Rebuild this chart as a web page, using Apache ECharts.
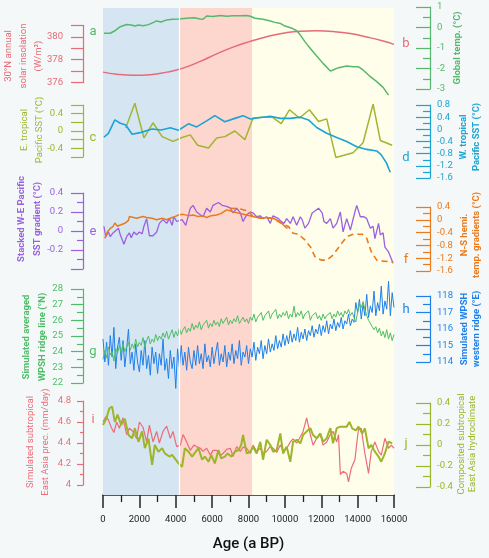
<!DOCTYPE html>
<html>
<head>
<meta charset="utf-8">
<script src="https://cdn.jsdelivr.net/npm/echarts@6/dist/echarts.min.js"></script>
<style>
  html, body { margin: 0; padding: 0; background: #f4f8f8; }
  #main { width: 489px; height: 558px; }
</style>
</head>
<body>
<div id="main"></div>
<script>
var chartDom = document.getElementById('main');
var myChart = echarts.init(chartDom);

// period boundaries (a BP)
const periodEdges = [0, 4200, 8200, 16000];

// a: global temperature (°C)
const ageA = [50,400,650,950,1300,1550,1750,1950,2200,2500,2750,2950,3200,3500,3800,4150,4600,5000,5350,5500,5700,6050,6450,6800,7150,7550,7900,8100,8350,8800,9200,9450,9750,10000,10400,10650,10850,11100,11400,11750,12100,12500,12650,12950,13400,13750,14050,14300,14700,15050,15400,15700];
const tempA = [-0.28,-0.28,-0.16,0.04,0.15,0.12,0.07,0.12,0.09,0.14,0.24,0.32,0.27,0.37,0.40,0.41,0.45,0.47,0.42,0.40,0.56,0.54,0.59,0.55,0.57,0.57,0.59,0.55,0.45,0.40,0.32,0.25,0.2,0.07,-0.04,-0.16,-0.37,-0.69,-1.02,-1.39,-1.75,-2.12,-2.07,-1.96,-1.88,-1.92,-1.92,-2.07,-2.40,-2.64,-2.92,-3.3];

// b: 30°N annual insolation (W/m²)
const ageB = [0,750,1650,2600,3500,4400,5350,6250,7150,8100,9000,9900,10850,11750,12650,13600,14500,15400,16000];
const insolB = [376.92,376.74,376.65,376.7,376.92,377.27,377.86,378.51,379.1,379.6,380.0,380.31,380.49,380.52,380.46,380.28,379.98,379.63,379.34];

// c: E. tropical Pacific SST (°C)
const ageC = [1250,1750,2250,2750,3250,3850,4350,4800,5200,5800,6250,6700,7250,7800,8250,8800,9300,9800,10250,10800,11350,11850,12300,12800,13750,14300,14850,15250,15900];
const sstC = [0.07,0.64,-0.16,0.19,-0.13,-0.24,-0.15,-0.09,-0.33,-0.39,-0.16,-0.13,0,-0.2,0.30,0.32,0.32,0.17,0.49,0.30,0.49,0.22,0.28,-0.61,-0.5,-0.27,0.62,-0.22,-0.33];

// d: W. tropical Pacific SST (°C)
const ageD = [50,300,650,950,1250,1600,2100,2700,3200,3700,4150,4700,5150,5700,6150,6700,7250,7700,8100,8650,9200,9750,10300,10850,11300,11750,12300,12850,13400,13950,14500,15050,15300,15600,15700,15800];
const sstD = [-0.26,-0.13,0.31,0.2,0.14,-0.16,-0.1,0.01,-0.02,0.05,-0.03,0.18,0.08,0.28,0.45,0.25,0.36,0.45,0.34,0.39,0.43,0.36,0.36,0.40,0.31,0.06,-0.13,-0.27,-0.40,-0.57,-0.66,-0.71,-0.84,-1.12,-1.28,-1.41];

// e: stacked W-E Pacific SST gradient (°C)
const ageE = [50,150,300,400,550,650,850,950,1150,1300,1450,1550,1700,1850,2000,2150,2250,2400,2550,2750,2950,3100,3300,3500,3650,3800,3900,4050,4350,4550,4800,4950,5150,5350,5500,5700,5900,6050,6350,6550,6650,6800,7000,7150,7350,7550,7700,7900,8100,8250,8450,8650,8800,9000,9200,9350,9650,9800,9950,10100,10300,10450,10650,10850,10950,11100,11300,11500,11650,11850,12050,12150,12300,12500,12650,12850,13050,13200,13400,13600,13850,13950,14150,14350,14500,14700,14850,14950,15150,15250,15400,15500,15700,15950];
const gradE = [0.05,-0.06,-0.01,-0.06,-0.02,-0.04,0.03,-0.04,-0.14,-0.06,-0.02,-0.07,-0.01,-0.04,-0.01,-0.03,0.05,0.13,-0.05,-0.05,-0.01,0.08,0.12,0.08,0.13,0.06,0.15,0.10,0.12,0.06,0.24,0.27,0.20,0.17,0.15,0.24,0.20,0.27,0.30,0.27,0.29,0.26,0.24,0.19,0.24,0.19,0.10,0.17,0.20,0.19,0.15,0.16,0.13,0.15,0.08,0.16,0.13,0.10,0.08,0.13,0.08,0.15,0.06,0.15,0.12,0.03,0.08,0.19,0.21,0.24,0.19,0.10,0.08,0.13,0.03,0.08,0.20,-0.01,0.13,0.01,0.20,0.27,0.15,0.15,0.13,0.03,0.05,-0.08,0.08,-0.04,-0.02,-0.17,-0.22,-0.34];

// f: N-S hemispheric temperature gradients (°C), two records
const ageF1 = [100,250,400,550,650,700,800,950,1200,1400,1450,1550,1850,2200,2400,2700,2950,3250,3500,3800,3950,4150,4400,4700,4950,5250,5500,5700,5950,6250,6500,6800,6900,7150,7550,7900,8250,8650,9000,9350,9750,10000,10150];
const nsF1 = [-0.58,-0.37,-0.27,-0.21,-0.10,-0.06,-0.20,-0.16,-0.11,-0.02,0.10,0.04,0.05,0.10,0.07,0.05,0.00,0.05,0.00,0.07,0.10,0.15,0.17,0.13,0.15,0.10,0.13,0.07,0.13,0.15,0.20,0.31,0.36,0.25,0.20,0.15,0.10,0.05,0.07,0.05,-0.06,-0.21,-0.27];
const ageF2 = [7000,7550,8000,8250,8800,9350,9800,10200,10450,10750,11100,11400,11650,12000,12300,12650,13050,13400,13750,14250,14500,14750,15050,15400,15800,15950];
const nsF2 = [0.36,0.34,0.27,0.10,0.05,0.05,-0.11,-0.21,-0.42,-0.45,-0.63,-0.84,-1.15,-1.26,-1.26,-1.10,-0.79,-0.53,-0.45,-0.45,-0.58,-1.00,-1.26,-1.29,-1.31,-1.33];

// g / h: simulated WPSH, sampled every 100 a from 0 BP
const wpshStep = 100;
const ridgeG = [
  23.5,24.1,23.6,24.3,23.8,24.0,23.4,24.2,23.9,24.4,
  23.9,24.5,24.0,24.3,24.6,24.1,24.5,24.2,24.8,24.3,
  24.6,24.4,24.9,24.3,24.7,25.0,24.5,24.8,24.6,25.1,
  24.7,25.0,24.8,25.2,24.9,25.3,24.8,25.1,25.4,24.9,
  25.3,25.0,25.5,25.1,25.4,25.6,25.2,25.5,25.3,25.8,
  25.4,25.7,25.5,25.9,25.4,25.7,25.6,26.0,25.5,25.8,
  25.6,26.0,25.7,25.9,25.6,26.1,25.8,25.9,26.2,25.7,
  26.0,25.8,26.1,25.9,26.3,25.8,26.0,26.2,25.9,26.1,
  25.8,26.2,26.0,26.4,25.9,26.2,26.1,26.5,26.0,26.3,
  26.2,26.6,26.1,26.4,26.3,26.7,26.1,26.4,26.2,26.5,
  26.3,26.6,26.1,26.4,26.2,26.9,26.2,26.5,26.3,26.6,
  26.1,26.4,26.3,26.6,26.0,26.3,26.2,26.5,26.1,26.3,
  26.0,26.4,26.1,26.3,26.2,26.5,26.1,26.4,26.2,26.6,
  26.3,26.5,26.2,26.6,26.4,26.7,26.3,26.5,26.2,25.9,
  26.5,27.1,26.8,27.2,26.7,26.3,26.0,25.9,25.6,25.4,
  25.6,25.2,25.5,25.0,25.3,24.9,25.4,24.8,25.2,24.7,25.1
];
const westH = [
  115.4,114.0,115.2,113.8,115.6,114.3,116.1,113.6,114.9,115.5,
  114.1,115.3,113.7,114.8,116.0,113.9,114.6,113.5,115.1,114.0,
  113.4,114.7,113.8,115.3,113.6,114.4,113.2,114.9,113.9,114.6,
  113.3,114.5,113.8,115.4,113.5,114.2,113.0,114.7,113.6,114.3,
  112.4,114.8,113.7,115.0,113.8,114.6,113.5,114.9,114.0,113.6,
  114.7,113.8,115.0,113.9,114.5,113.6,115.1,114.0,114.4,113.7,
  114.9,113.9,114.6,115.2,113.8,114.5,114.0,115.0,113.7,114.6,
  114.1,115.1,113.9,114.7,114.2,115.3,113.8,114.6,114.3,115.0,
  113.9,114.8,114.3,115.2,114.1,114.9,114.5,115.3,114.2,115.0,
  114.5,115.4,114.6,115.1,114.7,115.6,114.8,115.3,114.9,115.7,
  115.0,115.6,115.1,115.9,115.2,115.7,115.3,116.1,115.2,115.8,
  115.4,116.0,115.3,115.9,115.6,116.2,115.5,116.0,115.7,116.3,
  115.6,116.2,115.8,116.5,115.7,116.3,116.0,116.6,115.9,116.4,
  116.1,116.7,116.0,116.5,116.3,116.9,116.2,116.6,116.4,117.6,
  117.0,117.8,116.6,117.5,116.8,118.1,116.7,117.4,117.0,118.3,
  116.8,117.6,117.1,118.6,116.9,117.7,117.2,118.9,116.8,118.2,117.3
];

// i: simulated subtropical East Asia precipitation (mm/day)
const ageI = [0,150,300,450,600,750,900,1100,1300,1450,1650,1850,2000,2200,2400,2550,2750,2950,3100,3300,3500,3700,3850,4050,4250,4400,4600,4800,5000,5150,5350,5500,5700,5900,6050,6250,6450,6600,6800,7000,7150,7350,7550,7700,7900,8100,8250,8450,8650,8800,9000,9200,9350,9550,9750,9900,10100,10300,10450,10650,10850,11000,11200,11400,11550,11750,11950,12100,12300,12500,12650,12850,12950,13050,13200,13400,13500,13650,13850,14050,14200,14400,14600,14750,14950,15150,15300,15500,15700,15850,16000];
const precI = [4.60,4.65,4.62,4.55,4.50,4.60,4.54,4.64,4.48,4.54,4.51,4.44,4.60,4.55,4.41,4.57,4.41,4.51,4.40,4.51,4.56,4.445,4.51,4.365,4.38,4.48,4.41,4.33,4.38,4.365,4.35,4.32,4.35,4.285,4.33,4.33,4.28,4.30,4.34,4.35,4.27,4.365,4.32,4.36,4.35,4.30,4.38,4.32,4.35,4.30,4.32,4.37,4.35,4.31,4.38,4.33,4.35,4.41,4.44,4.40,4.46,4.51,4.64,4.48,4.38,4.445,4.48,4.38,4.41,4.48,4.51,4.41,4.48,4.10,4.13,4.11,4.03,4.16,4.24,4.54,4.54,4.30,4.11,4.32,4.41,4.32,4.285,4.445,4.35,4.38,4.35];

// j: composited subtropical East Asia hydroclimate
const ageJ = [0,180,350,500,650,800,1000,1200,1400,1600,1750,1950,2150,2300,2500,2700,2850,3050,3250,3400,3650,3800,4000,4150,4350,4500,4700,4900,5100,5250,5450,5600,5800,5950,6150,6350,6500,6700,6850,7050,7250,7450,7600,7700,7900,8100,8250,8450,8650,8800,9000,9200,9350,9550,9750,9900,10100,10300,10450,10650,10850,11000,11200,11400,11550,11750,11950,12100,12300,12500,12650,12850,13050,13400,13550,13700,13900,14050,14250,14400,14600,14750,14950,15150,15300,15500,15700,15900];
const hydroJ = [0.19,0.25,0.35,0.365,0.22,0.29,0.19,0.25,0.095,0.064,0.16,0.03,0.13,-0.03,0.06,-0.19,0.0,-0.064,-0.03,-0.08,-0.11,-0.095,-0.14,-0.175,-0.206,-0.03,-0.064,-0.11,-0.064,-0.03,-0.14,-0.11,-0.16,-0.095,-0.175,-0.048,-0.127,-0.11,-0.08,-0.11,-0.064,-0.048,0.0,0.095,-0.08,-0.064,-0.016,-0.08,0.03,-0.14,0.05,0.0,-0.064,-0.048,0.11,-0.08,-0.016,-0.16,0.03,0.05,0.016,0.095,0.13,0.16,0.095,0.064,0.11,0.03,0.064,0.16,0.016,0.16,0.175,0.175,0.22,0.159,0.14,0.175,0.11,0.159,-0.032,0.0,-0.064,-0.11,-0.159,-0.08,0.032,0.016];

function pairs(xs, ys) {
  return xs.map((x, i) => [x, ys[i]]);
}
const ageWPSH = ridgeG.map((v, i) => i * wpshStep);

// tick label filters
const evenOnly = v => (Math.round(v) % 2 === 0 ? String(Math.round(v)) : '');
const every04 = v => (Math.round(Math.abs(v) * 10) % 4 === 0 ? String(+v.toFixed(1)) : '');
const noBottom = v => (v < -0.35 ? '' : String(+v.toFixed(1)));
const plain = v => String(+v.toFixed(1));

// one grid + y axis per record; title = [centre x, centre y] of the rotated axis title
const panels = [
  { key: 'a', side: 'right', top: 7, height: 82, min: -3, max: 1, interval: 1, minor: 2, color: '#55b86c',
    name: 'Global temp. (°C)', title: [458, 48], lh: 12, bold: true, letter: [93, 32] },
  { key: 'b', side: 'left', top: 25.3, height: 57.4, min: 376, max: 381, interval: 1, color: '#e66b77',
    name: '30°N annual\nsolar insolation\n(W/m²)', title: [24, 56], lh: 15, fmt: evenOnly, letter: [406, 44] },
  { key: 'c', side: 'left', top: 105, height: 52, min: -0.6, max: 0.6, interval: 0.2, color: '#a0b530',
    name: 'E. tropical\nPacific SST (°C)', title: [32.5, 130], lh: 15, fmt: every04, letter: [93, 138] },
  { key: 'd', side: 'right', top: 105, height: 73, min: -1.6, max: 0.8, interval: 0.4, minor: 2, color: '#1ba4d4',
    name: 'W. tropical\nPacific SST (°C)', title: [470.5, 137], lh: 13, bold: true, letter: [406, 158] },
  { key: 'e', side: 'left', top: 193, height: 76, min: -0.4, max: 0.4, interval: 0.2, minor: 2, color: '#9b60e0',
    name: 'Stacked W-E Pacific\nSST gradient (°C)', title: [30, 219], lh: 16, bold: true, fmt: noBottom, letter: [93, 232] },
  { key: 'f', side: 'right', top: 207, height: 64, min: -1.6, max: 0.4, interval: 0.4, minor: 2, color: '#ea7a1e',
    name: 'N-S hemi.\ntemp. gradients (°C)', title: [470.5, 235], lh: 12, bold: true, letter: [406, 260] },
  { key: 'g', side: 'left', top: 289, height: 94, min: 22, max: 28, interval: 1, minor: 2, color: '#4fbd68',
    name: 'Simulated averaged\nWPSH ridge line (°N)', title: [34.5, 337], lh: 16, bold: true, letter: [93, 352] },
  { key: 'h', side: 'right', top: 296, height: 66, min: 114, max: 118, interval: 1, minor: 2, color: '#1f80ec',
    name: 'Simulated WPSH\nwestern ridge (°E)', title: [471, 329], lh: 12, bold: true, letter: [406, 310] },
  { key: 'i', side: 'left', top: 401, height: 84, min: 4, max: 4.8, interval: 0.2, minor: 2, color: '#ec6c78',
    name: 'Simulated subtropical\nEast Asia prec. (mm/day)', title: [38.5, 442], lh: 15, tick: 6, margin: 12, letter: [93, 420] },
  { key: 'j', side: 'right', top: 403, height: 84, min: -0.4, max: 0.4, interval: 0.2, minor: 2, color: '#9db52a',
    name: 'Composited subtropical\nEast Asia hydroclimate', title: [467.5, 444], lh: 11, letter: [406, 444] }
];

const grids = [{ left: 103, width: 291, top: 8, height: 487, outerBoundsMode: 'none' }];
const xAxes = [{
  type: 'value', gridIndex: 0, min: 0, max: 16000, interval: 2000,
  axisLine: { onZero: false, lineStyle: { color: '#222', width: 1.5 } },
  axisTick: { length: 13, lineStyle: { color: '#222', width: 1.5 } },
  minorTick: { show: true, splitNumber: 2, length: 7, lineStyle: { color: '#222', width: 1.3 } },
  axisLabel: { color: '#222', fontSize: 9.5, margin: 20, formatter: v => String(v) },
  splitLine: { show: false },
  name: 'Age (a BP)', nameLocation: 'middle', nameGap: 42, nameMoveOverlap: false,
  nameTextStyle: { fontSize: 15, fontWeight: 500, color: '#111' }
}];
const yAxes = [{ type: 'value', gridIndex: 0, min: 0, max: 1, show: false }];

panels.forEach((p, k) => {
  const i = k + 1;
  const left = p.side === 'left';
  const tickLen = p.tick || (left ? 12 : 14);
  grids.push({ left: 103, width: 291, top: p.top, height: p.height, outerBoundsMode: 'none' });
  xAxes.push({ type: 'value', gridIndex: i, min: 0, max: 16000, show: false });
  yAxes.push({
    type: 'value', gridIndex: i, position: p.side, offset: left ? 20 : 36,
    min: p.min, max: p.max, interval: p.interval,
    splitLine: { show: false },
    axisLine: { show: true, onZero: false, lineStyle: { color: p.color, width: 1.2 } },
    axisTick: { show: true, inside: !left, length: tickLen, lineStyle: { color: p.color, width: 1.2 } },
    minorTick: { show: !!p.minor, splitNumber: p.minor || 2, length: Math.round(tickLen / 2), lineStyle: { color: p.color, width: 1.2 } },
    axisLabel: { color: p.color, fontSize: 9.5, margin: p.margin || (left ? 20 : 7), formatter: p.fmt || plain }
  });
});

function line(key, data, width, extra) {
  const i = panels.findIndex(p => p.key === key) + 1;
  return Object.assign({
    type: 'line', xAxisIndex: i, yAxisIndex: i, data: data,
    showSymbol: false, clip: false, silent: true,
    lineStyle: { color: panels[i - 1].color, width: width }
  }, extra || {});
}

const letters = panels.map(p => ({
  type: 'text', x: p.letter[0], y: p.letter[1], silent: true,
  style: { text: p.key, fill: p.color, fontSize: 13, fontFamily: 'Roboto, sans-serif',
           align: 'center', verticalAlign: 'middle' }
}));
const titles = panels.map(p => ({
  type: 'text', x: p.title[0], y: p.title[1], rotation: Math.PI / 2, silent: true,
  style: { text: p.name, fill: p.color, fontSize: 9.5, lineHeight: p.lh, fontFamily: 'Roboto, sans-serif',
           fontWeight: p.bold ? 'bold' : 'normal', align: 'center', verticalAlign: 'middle' }
}));

option = {
  animation: false,
  backgroundColor: '#f4f8f8',
  textStyle: { fontFamily: 'Roboto, sans-serif' },
  grid: grids,
  xAxis: xAxes,
  yAxis: yAxes,
  graphic: letters.concat(titles),
  series: [
    {
      type: 'line', xAxisIndex: 0, yAxisIndex: 0, data: [[0, 0]], silent: true,
      showSymbol: false, lineStyle: { opacity: 0 },
      markArea: {
        silent: true,
        data: [
          [{ xAxis: periodEdges[0], itemStyle: { color: '#d5e6f2' } }, { xAxis: periodEdges[1] }],
          [{ xAxis: periodEdges[1], itemStyle: { color: '#fdd6cd' } }, { xAxis: periodEdges[2] }],
          [{ xAxis: periodEdges[2], itemStyle: { color: '#fefeea' } }, { xAxis: periodEdges[3] }]
        ]
      },
      markLine: {
        silent: true, symbol: 'none', label: { show: false },
        lineStyle: { color: '#ffffff', width: 1.2, type: 'solid' },
        data: [{ xAxis: periodEdges[1] }]
      }
    },
    line('b', pairs(ageB, insolB), 1.5, { smooth: true }),
    line('a', pairs(ageA, tempA), 1.5),
    line('c', pairs(ageC, sstC), 1.5),
    line('d', pairs(ageD, sstD), 1.6),
    line('e', pairs(ageE, gradE), 1.3),
    line('f', pairs(ageF1, nsF1), 1.5),
    line('f', pairs(ageF2, nsF2), 1.6, { lineStyle: { color: panels[5].color, width: 1.6, type: [6, 4] } }),
    line('h', pairs(ageWPSH, westH), 1),
    line('g', pairs(ageWPSH, ridgeG), 1),
    line('i', pairs(ageI, precI), 1.2),
    line('j', pairs(ageJ, hydroJ), 2)
  ]
};

myChart.setOption(option);
</script>
</body>
</html>
